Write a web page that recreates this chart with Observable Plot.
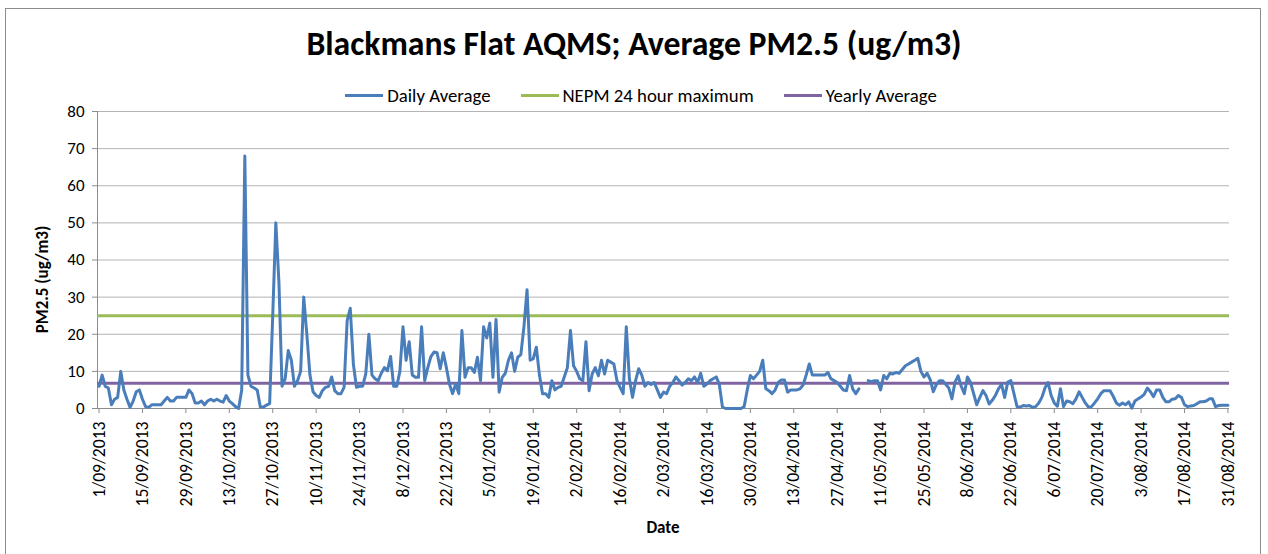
<!DOCTYPE html>
<html>
<head>
<meta charset="utf-8">
<script src="https://cdn.jsdelivr.net/npm/d3@7"></script>
<script src="https://cdn.jsdelivr.net/npm/@observablehq/plot@0.6"></script>
<style>
  html, body { margin: 0; padding: 0; background: #fff; }
  #wrap { position: relative; width: 1268px; height: 554px; overflow: hidden; background: #fff; }
  #frame { position: absolute; left: 5px; top: 8px; width: 1256px; height: 600px; border: 1px solid #8c8c8c; box-sizing: border-box; }
  #title { position: absolute; left: 0; width: 1268px; top: 23px; text-align: center;
           font-family: Carlito, "Liberation Sans Narrow", "Liberation Sans", sans-serif; font-weight: bold; font-size: 33.7px; color: #000; }
  #legend { position: absolute; left: 7px; width: 1268px; top: 84px; display: flex; justify-content: center; gap: 30px;
            font-family: Carlito, "Liberation Sans Narrow", "Liberation Sans", sans-serif; font-size: 18.8px; color: #000; }
  .item { display: flex; align-items: center; gap: 4px; }
  .sw { width: 38px; height: 3px; display: inline-block; }
  #plot { position: absolute; left: 0; top: 88px; }
</style>
</head>
<body>
<div id="wrap">
  <div id="frame"></div>
  <div id="title"></div>
  <div id="legend"></div>
  <div id="plot"></div>
</div>
<script>
// ---- Data ----
const titleText = "Blackmans Flat AQMS; Average PM2.5 (ug/m3)";
const startDate = "2013-09-01";
const seriesNames = ["Daily Average", "NEPM 24 hour maximum", "Yearly Average"];
const seriesColors = ["#4A7EBB", "#9BBB59", "#8064A2"];
const nepmMaximum = 25;
const yearlyAverage = 6.8;
const yTicks = [0, 10, 20, 30, 40, 50, 60, 70, 80];
// daily average PM2.5, one value per day from 1/09/2013 to 31/08/2014 (null = no data)
const dailyAverage = [
  6, 9, 6, 5.5, 1, 2.5, 3, 10, 5, 2.5,
  0.3, 2, 4.5, 5, 2.5, 0.5, 0.3, 1, 1, 1,
  1, 2, 3, 2, 2, 3, 3, 3, 3, 5,
  4, 1.5, 1.5, 2, 1, 2, 2.5, 2, 2.5, 2,
  1.7, 3.5, 2, 1.3, 0.5, 0, 5, 68, 9, 6,
  5.5, 5, 0.4, 0.4, 0.9, 1.3, 25, 50, 34, 6,
  8, 15.6, 13, 6, 7.5, 10, 30, 20, 9, 4.5,
  3.5, 3, 4.8, 5.7, 6, 8.5, 4.8, 4, 4, 5.7,
  23.7, 27, 12, 5.7, 6, 6, 9.3, 20, 9, 8,
  7.5, 9.5, 11, 10.2, 14, 6, 6, 10, 22, 13,
  18, 9, 8.4, 8.4, 22, 7.5, 11, 14, 15.2, 15,
  10.7, 15, 11, 6.5, 4, 6.6, 4, 21, 8.4, 11,
  11, 9.7, 13.8, 7.5, 22, 19, 23, 8.4, 24, 4.4,
  8.4, 9.5, 13, 15, 10, 13.8, 14.5, 22, 32, 13,
  13.4, 16.5, 9, 4, 4, 3, 7.5, 5, 5.7, 6,
  8.5, 11, 21, 11.5, 10, 8, 7.5, 18, 4.8, 9.3,
  11, 8.8, 13, 9.3, 13, 12.5, 12, 7.5, 5.7, 4,
  22, 8, 3, 7.5, 10.7, 9, 6, 7, 6.5, 7,
  5, 3, 4.4, 4, 6, 7, 8.5, 7.5, 6.3, 7,
  8, 7.5, 8.5, 7, 9.5, 6, 6.6, 7.5, 8, 8.5,
  6.5, 0.4, 0, 0, 0, 0, 0, 0, 0.5, 5,
  8.9, 8, 9, 10, 13, 5.3, 4.8, 4, 5, 7,
  7.7, 7.7, 4.4, 5, 5, 5, 5.3, 6.3, 9, 12,
  9, 9, 9, 9, 9, 9.7, 8, 7.5, 7, 6,
  5, 4.8, 8.9, 5.3, 4, 5.3, null, null, 7.5, 7.2,
  7.5, 7.5, 5, 8.9, 8, 9.5, 9.3, 9.7, 9.5, 10.5,
  11.5, 12, 12.5, 13, 13.5, 10, 8.5, 9.5, 7.8, 4.5,
  6.5, 7.5, 7.5, 6.5, 5.5, 2.6, 7.1, 8.8, 6, 4,
  8.5, 7, 4, 1, 3, 4.8, 3.5, 1.2, 2.2, 3.5,
  5.3, 6.5, 3, 7.1, 7.5, 4, 0.5, 0.4, 0.8, 0.7,
  0.8, 0.3, 0.5, 1.5, 3, 5.5, 7, 3.5, 1.5, 0.6,
  5.3, 0.5, 2, 1.8, 1.3, 2.6, 4.5, 3, 1.5, 0.4,
  0.5, 1.5, 2.6, 4, 4.8, 4.8, 4.8, 3.3, 1.5, 0.9,
  1.5, 1, 1.8, 0.1, 2, 2.6, 3.1, 3.8, 5.5, 4.5,
  3.2, 5, 5, 3, 1.8, 1.8, 2.5, 2.6, 3.5, 3,
  1, 0.5, 0.7, 0.8, 1.3, 1.8, 1.8, 2, 2.6, 2.6,
  0.5, 0.8, 0.9, 0.9, 0.9
];

// ---- Build ----
document.getElementById("title").textContent = titleText;
const legend = document.getElementById("legend");
seriesNames.forEach((name, i) => {
  const it = document.createElement("div");
  it.className = "item";
  const sw = document.createElement("span");
  sw.className = "sw";
  sw.style.background = seriesColors[i];
  const tx = document.createElement("span");
  tx.textContent = name;
  it.appendChild(sw); it.appendChild(tx);
  legend.appendChild(it);
});

const start = d3.utcParse("%Y-%m-%d")(startDate);
const dates = dailyAverage.map((_, i) => d3.utcDay.offset(start, i));
const rows = dates.map((date, i) => ({date, value: dailyAverage[i]}));
const lastDate = dates[dates.length - 1];
const tickDates = dates.filter((_, i) => i % 14 === 0);
const fmt = d3.utcFormat("%-d/%m/%Y");
const font = 'Carlito, "Liberation Sans Narrow", "Liberation Sans", sans-serif';

const W = 1268, H = 466, mL = 97, mR = 39, mT = 23, mB = 146;

const chart = Plot.plot({
  width: W, height: H,
  marginLeft: mL, marginRight: mR, marginTop: mT, marginBottom: mB,
  style: {fontFamily: font, fontSize: "16px", color: "#000", background: "transparent", overflow: "visible"},
  x: {type: "utc", domain: [d3.utcHour.offset(start, -12), d3.utcHour.offset(lastDate, 12)]},
  y: {domain: [0, 80]},
  marks: [
    Plot.ruleY(yTicks.filter(d => d > 0), {stroke: "#b3b3b3", strokeWidth: 1}),
    Plot.axisY({ticks: yTicks, tickSize: 5, tickPadding: 8, stroke: "#8c8c8c", label: null, fontSize: 17}),
    Plot.axisX({ticks: tickDates, tickFormat: fmt, tickRotate: -90, tickSize: 5, tickPadding: 8, label: null, fontSize: 17.6, stroke: "#8c8c8c"}),
    Plot.ruleX([0], {x: () => d3.utcHour.offset(start, -12), stroke: "#8c8c8c"}),
    Plot.ruleY([0], {stroke: "#8c8c8c"}),
    Plot.ruleY([nepmMaximum], {stroke: seriesColors[1], strokeWidth: 3}),
    Plot.ruleY([yearlyAverage], {stroke: seriesColors[2], strokeWidth: 3}),
    Plot.line(rows, {x: "date", y: "value", stroke: seriesColors[0], strokeWidth: 3, strokeLinejoin: "round", strokeLinecap: "round"})
  ]
});

const svg = d3.select(chart);
svg.append("text")
  .attr("transform", `translate(44,${mT + (H - mT - mB) / 2 + 20}) rotate(-90)`)
  .attr("text-anchor", "middle").attr("dominant-baseline", "middle")
  .attr("font-family", font).attr("font-weight", "bold").attr("font-size", 17)
  .text("PM2.5 (ug/m3)");
svg.append("text")
  .attr("x", mL + (W - mL - mR) / 2).attr("y", 441)
  .attr("text-anchor", "middle").attr("dominant-baseline", "middle")
  .attr("font-family", font).attr("font-weight", "bold").attr("font-size", 17)
  .text("Date");

document.getElementById("plot").appendChild(chart);
</script>
</body>
</html>
